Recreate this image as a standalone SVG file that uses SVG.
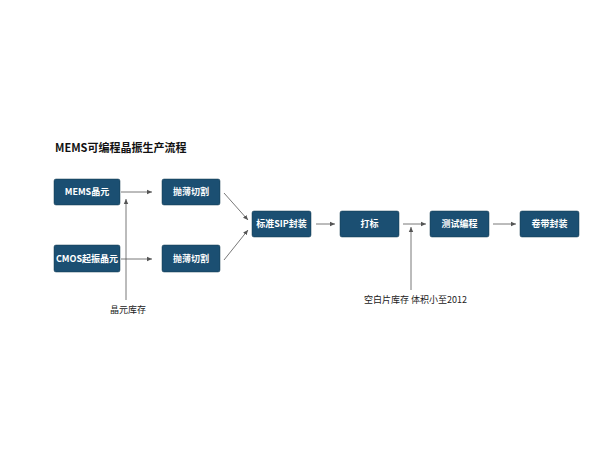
<svg xmlns="http://www.w3.org/2000/svg" width="600" height="450" viewBox="0 0 600 450">
<style>
.b{fill:#1b4f72;stroke:#10384f;stroke-width:0.5}
.t{fill:#fff;font-family:"Noto Sans CJK SC",sans-serif;font-size:9px;font-weight:bold;text-anchor:middle}
.l{fill:#222;font-family:"Noto Sans CJK SC",sans-serif;font-size:9px}
.c line{stroke:#555;stroke-width:0.8}
</style>
<defs><marker id="a" markerWidth="6" markerHeight="6" refX="5" refY="3" orient="auto" markerUnits="userSpaceOnUse"><path d="M0,0.8 L5,3 L0,5.2z" fill="#555"/></marker></defs>
<rect width="600" height="450" fill="#fff"/>
<text x="55" y="152" font-family="Noto Sans CJK SC,sans-serif" font-size="11" font-weight="bold" fill="#111">MEMS可编程晶振生产流程</text>
<g id="n1"><rect class="b" x="54" y="179" width="66" height="26" rx="2"/><text class="t" x="87" y="195">MEMS晶元</text></g>
<g id="n2"><rect class="b" x="54" y="245" width="66" height="27" rx="2"/><text class="t" x="87" y="262">CMOS起振晶元</text></g>
<g id="n3"><rect class="b" x="162" y="179" width="58" height="26" rx="2"/><text class="t" x="191" y="195">抛薄切割</text></g>
<g id="n4"><rect class="b" x="162" y="245" width="58" height="27" rx="2"/><text class="t" x="191" y="262">抛薄切割</text></g>
<g id="n5"><rect class="b" x="252" y="211" width="59" height="26" rx="2"/><text class="t" x="281.5" y="227">标准SIP封装</text></g>
<g id="n6"><rect class="b" x="340" y="211" width="59" height="26" rx="2"/><text class="t" x="369.5" y="227">打标</text></g>
<g id="n7"><rect class="b" x="430" y="211" width="59" height="26" rx="2"/><text class="t" x="459.5" y="227">测试编程</text></g>
<g id="n8"><rect class="b" x="520" y="211" width="59" height="26" rx="2"/><text class="t" x="549.5" y="227">卷带封装</text></g>
<g class="c">
<line x1="121" y1="192" x2="152" y2="192" marker-end="url(#a)"/>
<line x1="121" y1="259" x2="152" y2="259" marker-end="url(#a)"/>
<line x1="126" y1="300" x2="126" y2="199" marker-end="url(#a)"/>
<line x1="224" y1="193" x2="248" y2="220" marker-end="url(#a)"/>
<line x1="224" y1="260" x2="248" y2="230" marker-end="url(#a)"/>
<line x1="316" y1="224" x2="335" y2="224" marker-end="url(#a)"/>
<line x1="403" y1="224" x2="426" y2="224" marker-end="url(#a)"/>
<line x1="411" y1="290" x2="411" y2="227" marker-end="url(#a)"/>
<line x1="493" y1="224" x2="516" y2="224" marker-end="url(#a)"/>
</g>
<text class="l" x="110" y="313">晶元库存</text>
<text class="l" x="364" y="303">空白片库存  体积小至2012</text>
</svg>
